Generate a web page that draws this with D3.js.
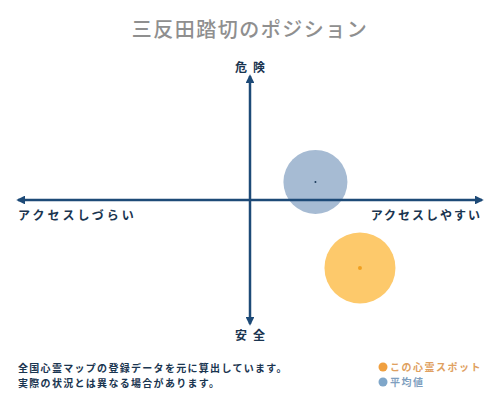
<!DOCTYPE html>
<html>
<head>
<meta charset="utf-8">
<script src="https://cdn.jsdelivr.net/npm/d3@7"></script>
<style>
  body { margin: 0; background: #fff; }
  text { font-family: "Noto Sans CJK JP", sans-serif; }
</style>
</head>
<body>
<div id="chart"></div>
<script>
// data
const seriesNames = ["この心霊スポット", "平均値"];
const accessValues = [2.37, 1.41];   // x: アクセスしづらい(-) .. アクセスしやすい(+)
const dangerValues = [-2.74, 0.73];  // y: 安全(-) .. 危険(+)
const sizeValues = [35.5, 32];
const axisLabels = { top: "危険", bottom: "安全", left: "アクセスしづらい", right: "アクセスしやすい" };
const titleText = "三反田踏切のポジション";
const noteLines = ["全国心霊マップの登録データを元に算出しています。", "実際の状況とは異なる場合があります。"];

const width = 500, height = 400;
const fills = ["#fdc96b", "#a6bbd3"];
const dots = ["#f0a020", "#1b3a5a"];
const legendColors = ["#f0a040", "#7fa6c9"];
const legendText = ["#e0a060", "#7f9fbf"];
const navy = "#1d4a77";

const svg = d3.select("#chart")
  .append("svg")
  .attr("width", width)
  .attr("height", height);

const x = d3.scaleLinear().domain([-5, 5]).range([18, 482]);
const y = d3.scaleLinear().domain([-5, 5]).range([324, 76]);
const r = d3.scaleLinear().domain([0, 1]).range([0, 1]);

// title
svg.append("text")
  .attr("x", width / 2)
  .attr("y", 37)
  .attr("text-anchor", "middle")
  .attr("fill", "#8f8f8f")
  .style("font-size", "20px")
  .style("font-weight", "500")
  .style("letter-spacing", "1.5px")
  .text(titleText);

// bubbles first so the axes sit on top
const idx = [1, 0];
svg.selectAll("circle.bubble")
  .data(idx)
  .join("circle")
  .attr("class", "bubble")
  .attr("cx", i => x(accessValues[i]))
  .attr("cy", i => y(dangerValues[i]))
  .attr("r", i => r(sizeValues[i]))
  .attr("fill", i => fills[i]);

svg.selectAll("circle.center")
  .data(idx)
  .join("circle")
  .attr("class", "center")
  .attr("cx", i => x(accessValues[i]))
  .attr("cy", i => y(dangerValues[i]))
  .attr("r", i => i === 0 ? 2 : 1)
  .attr("fill", i => dots[i]);

// arrow heads
const defs = svg.append("defs");
defs.append("marker")
  .attr("id", "arrow")
  .attr("viewBox", "0 0 10 10")
  .attr("refX", 8).attr("refY", 5)
  .attr("markerWidth", 3.5).attr("markerHeight", 3.5)
  .attr("orient", "auto-start-reverse")
  .append("path")
  .attr("d", "M0,0 L10,5 L0,10 z")
  .attr("fill", navy);

// axes
svg.append("line")
  .attr("x1", x(-5)).attr("x2", x(5))
  .attr("y1", y(0)).attr("y2", y(0))
  .attr("stroke", navy).attr("stroke-width", 2.5)
  .attr("marker-start", "url(#arrow)")
  .attr("marker-end", "url(#arrow)");

svg.append("line")
  .attr("x1", x(0)).attr("x2", x(0))
  .attr("y1", y(5)).attr("y2", y(-5))
  .attr("stroke", navy).attr("stroke-width", 2.5)
  .attr("marker-start", "url(#arrow)")
  .attr("marker-end", "url(#arrow)");

// axis labels
const labelStyle = sel => sel
  .attr("fill", "#1a3550")
  .style("font-size", "12px")
  .style("font-weight", "bold")
  .style("letter-spacing", "3px");

svg.append("text").call(labelStyle)
  .attr("x", x(0) + 3).attr("y", 72)
  .attr("text-anchor", "middle")
  .style("letter-spacing", "6px")
  .text(axisLabels.top);
svg.append("text").call(labelStyle)
  .attr("x", x(0) + 3).attr("y", 340)
  .attr("text-anchor", "middle")
  .style("letter-spacing", "6px")
  .text(axisLabels.bottom);
svg.append("text").call(labelStyle)
  .attr("x", 18).attr("y", 220)
  .text(axisLabels.left);
svg.append("text").call(labelStyle)
  .attr("x", 482).attr("y", 220)
  .attr("text-anchor", "end")
  .style("letter-spacing", "2px")
  .text(axisLabels.right);

// footer note
svg.selectAll("text.note")
  .data(noteLines)
  .join("text")
  .attr("class", "note")
  .attr("x", 18)
  .attr("y", (d, i) => 372 + i * 15)
  .attr("fill", "#1a3550")
  .style("font-size", "10px")
  .style("font-weight", "bold")
  .style("letter-spacing", "1.3px")
  .text(d => d);

// legend
const legend = svg.selectAll("g.legend")
  .data(seriesNames)
  .join("g")
  .attr("class", "legend")
  .attr("transform", (d, i) => `translate(383, ${367 + i * 15})`);

legend.append("circle")
  .attr("r", 4.5)
  .attr("fill", (d, i) => legendColors[i]);

legend.append("text")
  .attr("x", 7)
  .attr("y", 4)
  .attr("fill", (d, i) => legendText[i])
  .style("font-size", "10px")
  .style("font-weight", "bold")
  .style("letter-spacing", "1.5px")
  .text(d => d);
</script>
</body>
</html>
